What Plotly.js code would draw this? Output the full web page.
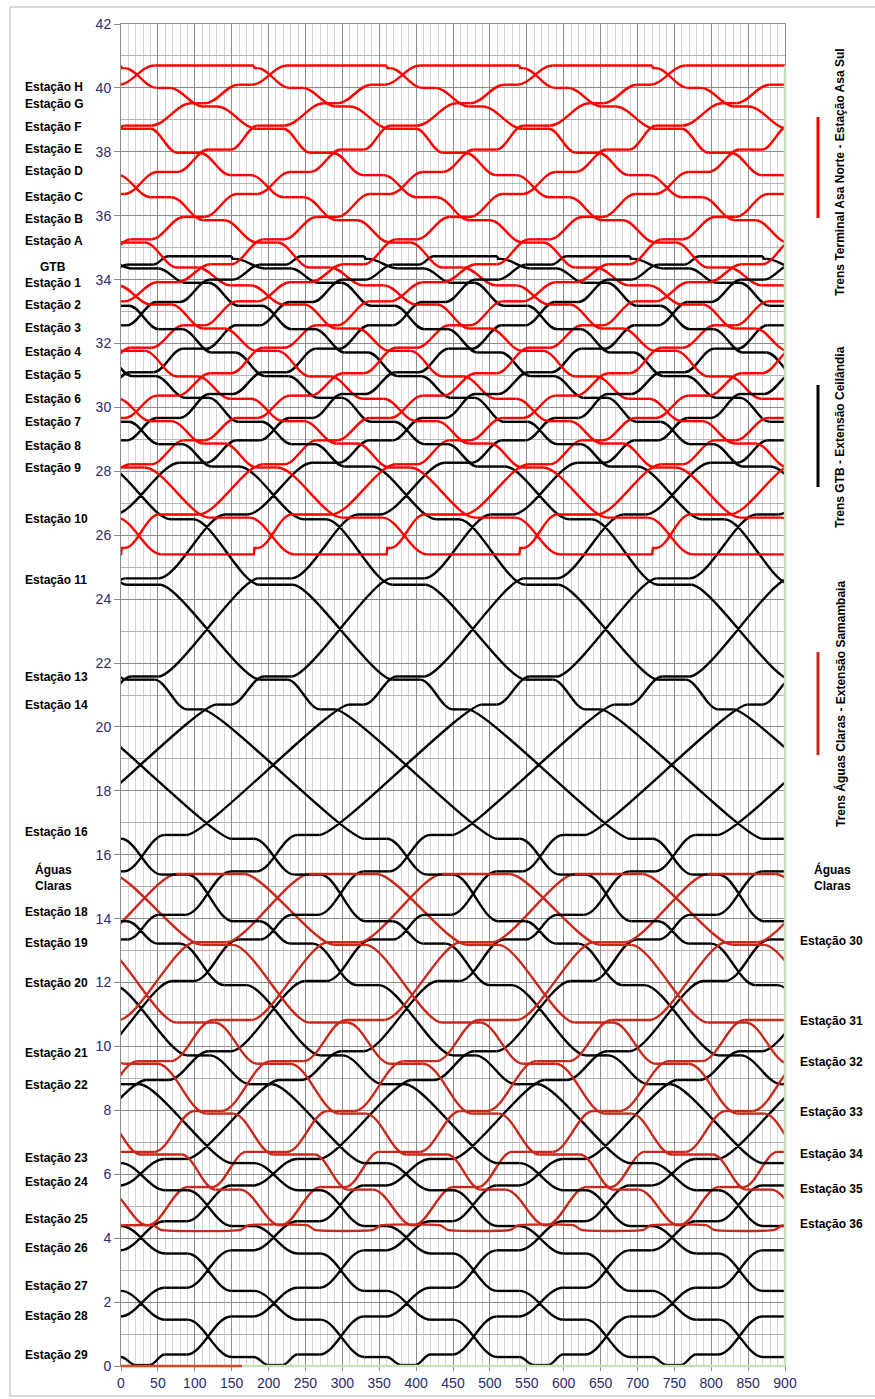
<!DOCTYPE html>
<html>
<head>
<meta charset="utf-8">
<script src="https://cdn.plot.ly/plotly-3.0.1.min.js"></script>
<style>
html,body{margin:0;padding:0;background:#ffffff;}
#chart{width:875px;height:1399px;}
</style>
</head>
<body>
<div id="chart"></div>
<script>
// ===================== DATA =====================
const HEADWAY = 180;   // time between consecutive trains (repeat of the pattern)

// ---- Trens Terminal Asa Norte - Estação Asa Sul (red) ----
const redStations   = ['H','G','F','E','D','C','B','A','GTB','1','2','3','4','5','6','7','8','9','10'];
const redDownY      = [40.0,39.42,38.72,37.97,37.27,36.58,35.86,35.16,34.38,33.82,33.22,32.47,31.77,30.97,30.27,29.57,28.87,28.12,26.55];
const redUpY        = [40.1,39.52,38.82,38.07,37.37,36.68,35.96,35.26,34.48,33.92,33.32,32.57,31.87,31.07,30.37,29.67,28.97,28.22,26.65];
const redDownArr    = [48,111,184,256,328,400,472,544,616,688,760,832,904,976,1048,1120,1192,1264,1380];
const redDownDep    = [66,130,220,287,356,428,500,572,644,716,788,860,932,1004,1076,1148,1220,1292,1434];
const redUpArr      = [3039,2975,2885,2818,2749,2677,2605,2533,2461,2389,2317,2245,2173,2101,2029,1957,1885,1813,1671];
const redUpDep      = [3057,2994,2921,2849,2777,2705,2633,2561,2489,2417,2345,2273,2201,2129,2057,1985,1913,1841,1725];
const redTopY       = [40.7, 40.62];          // terminal level, departure level
const redTopTimes   = [0, 3105, 3240];        // departure, arrival back, next departure
const redBottomY    = [25.4, 25.6];
const redBottomTimes= [1495, 1620];

// ---- Trens GTB - Extensão Ceilândia (black) ----
const blackStations = ['GTB','1','2','3','4','5','6','7','8','9','10','11','13','14','16','Águas Claras','18','19','20','21','22','23','24','25','26','27','28','29'];
const blackDownY    = [34.35,33.9,33.18,32.45,31.72,30.98,30.3,29.55,28.85,28.15,26.5,24.45,21.48,20.55,16.5,15.38,13.92,13.22,11.92,9.72,8.82,6.35,5.5,4.38,3.52,2.35,1.45,0.28];
const blackUpY      = [34.47,34.0,33.3,32.57,31.84,31.1,30.42,29.67,28.97,28.27,26.65,24.65,21.58,20.7,16.62,15.48,14.12,13.35,12.05,9.85,8.95,6.48,5.65,4.53,3.62,2.45,1.55,0.36];
const blackDownArr  = [-705,-633,-561,-489,-417,-345,-273,-201,-129,-57,68,188,368,450,690,775,872,950,1040,1170,1255,1410,1500,1590,1680,1770,1860,1950];
const blackDownDep  = [-669,-601,-529,-457,-385,-313,-241,-169,-97,-20,98,233,405,470,720,810,908,980,1070,1200,1285,1440,1530,1620,1710,1800,1890,1980];
const blackUpArr    = [4688,4620,4548,4476,4404,4332,4260,4188,4116,4039,3921,3786,3614,3549,3299,3209,3111,3039,2949,2819,2734,2579,2489,2399,2309,2219,2129,2039];
const blackUpDep    = [4724,4652,4580,4508,4436,4364,4292,4220,4148,4076,3951,3831,3651,3569,3329,3244,3147,3069,2979,2849,2764,2609,2519,2429,2339,2249,2159,2069];
const blackTopY     = [34.73, 34.65];
const blackTopTimes = [-750, 4744, 4830];
const blackBottomY  = [0.03, 0.03];
const blackBottomTimes = [2000, 2019];

// ---- Trens Águas Claras - Extensão Samambaia (dark red) ----
const samStations   = ['30','31','32','33','34','35'];
const samDownY      = [13.18,10.75,9.46,7.9,6.62,5.52];
const samUpY        = [13.26,10.83,9.54,7.98,6.7,5.6];
const samDownArr    = [109,255,365,476,567,668];
const samDownDep    = [152,307,409,512,622,701];
const samUpArr      = [1360,1205,1103,1000,890,811];
const samUpDep      = [1403,1257,1147,1036,945,844];
const samTopY       = [15.4, 15.4];
const samTopTimes   = [-13, 1515, 1607];
const samBottomY    = [4.4, 4.4];
const samBottomTimes= [756, 756];
// train standing at Estação 36 (moves between two tracks)
const samParkX = [0,44,54,162,172,253,263,342,352,433,443,528,538,614,624,708,718,794,804,886,896,900];
const samParkY = [4.4,4.4,4.26,4.26,4.4,4.4,4.26,4.26,4.4,4.4,4.26,4.26,4.4,4.4,4.26,4.26,4.4,4.4,4.26,4.26,4.4,4.4];

// ---- Axis / labels ----
const xTicks = [0,50,100,150,200,250,300,350,400,450,500,550,600,650,700,750,800,850,900];
const leftLabels = ['Estação H','Estação G','Estação F','Estação E','Estação D','Estação C','Estação B','Estação A','GTB','Estação 1','Estação 2','Estação 3','Estação 4','Estação 5','Estação 6','Estação 7','Estação 8','Estação 9','Estação 10','Estação 11','Estação 13','Estação 14','Estação 16','Águas<br>Claras','Estação 18','Estação 19','Estação 20','Estação 21','Estação 22','Estação 23','Estação 24','Estação 25','Estação 26','Estação 27','Estação 28','Estação 29'];
const leftLabelY = [40.03,39.5,38.78,38.1,37.4,36.6,35.9,35.2,34.4,33.9,33.2,32.5,31.75,31.0,30.25,29.55,28.8,28.1,26.5,24.6,21.55,20.7,16.7,15.3,14.2,13.25,12.0,9.8,8.8,6.5,5.75,4.6,3.7,2.5,1.55,0.35];
const rightLabels = ['Águas<br>Claras','Estação 30','Estação 31','Estação 32','Estação 33','Estação 34','Estação 35','Estação 36'];
const rightLabelY = [15.3,13.3,10.8,9.5,7.95,6.65,5.55,4.45];
const lineNames = ['Trens Terminal Asa Norte - Estação Asa Sul','Trens GTB - Extensão Ceilândia','Trens Águas Claras - Extensão Samambaia'];

// ===================== BUILD =====================
const COL_RED = '#FF0000', COL_BLACK = '#000000', COL_SAM = '#C8291C';
const LW = 2.4;

// one cycle of a train as a list of stops (each stop: points where the train stands)
function cycleStops(s){
  const stops = [];
  const tDep = s.topTimes[0], tArr = s.topTimes[1], tDepNext = s.topTimes[2];
  if (s.topY[1] !== s.topY[0]) stops.push([[tDep, s.topY[0]], [tDep + 1, s.topY[1]], [tDep + 5, s.topY[1]]]);
  else stops.push([[tDep, s.topY[0]]]);
  for (let i = 0; i < s.downY.length; i++) stops.push([[s.downArr[i], s.downY[i]], [s.downDep[i], s.downY[i]]]);
  const bArr = s.bottomTimes[0], bDep = s.bottomTimes[1];
  const b = [[bArr, s.bottomY[0]]];
  if (bDep > bArr) b.push([bDep, s.bottomY[0]]);
  if (s.bottomY[1] !== s.bottomY[0]) { b.push([bDep + 1, s.bottomY[1]]); b.push([bDep + 5, s.bottomY[1]]); }
  stops.push(b);
  for (let i = s.upY.length - 1; i >= 0; i--) stops.push([[s.upArr[i], s.upY[i]], [s.upDep[i], s.upY[i]]]);
  stops.push([[tArr, s.topY[0]], [tDepNext, s.topY[0]]]);
  return stops;
}

function buildSystem(s){
  const stops = cycleStops(s);
  const t0 = stops[0][0][0];
  const last = stops[stops.length - 1];
  const t1 = last[last.length - 1][0];
  const fx = [], fy = [];   // standing (flat) parts -> scatter trace
  let path = '';            // running parts -> cubic curves in data coordinates
  const kMin = Math.floor((-80 - t1) / HEADWAY), kMax = Math.ceil((980 - t0) / HEADWAY);
  for (let k = kMin; k <= kMax; k++) {
    const off = k * HEADWAY;
    if (t1 + off < -80 || t0 + off > 980) continue;
    for (let j = 0; j < stops.length; j++) {
      const st = stops[j];
      if (st.length > 1) {
        const a = st[0][0] + off, e = st[st.length - 1][0] + off;
        if (e >= -40 && a <= 940) {
          for (const p of st) { fx.push(p[0] + off); fy.push(p[1]); }
          fx.push(null); fy.push(null);
        }
      }
      if (j < stops.length - 1) {
        const p0 = st[st.length - 1], p1 = stops[j + 1][0];
        const xa = p0[0] + off, xb = p1[0] + off;
        if (xb < -40 || xa > 940) continue;
        const c = Math.min(0.36 * (xb - xa), 26);
        path += 'M' + xa + ',' + p0[1] + 'C' + (xa + c) + ',' + p0[1] + ' ' + (xb - c) + ',' + p1[1] + ' ' + xb + ',' + p1[1];
      }
    }
  }
  return {x: fx, y: fy, path: path};
}

const red = buildSystem({downY:redDownY, upY:redUpY, downArr:redDownArr, downDep:redDownDep, upArr:redUpArr, upDep:redUpDep, topY:redTopY, topTimes:redTopTimes, bottomY:redBottomY, bottomTimes:redBottomTimes});
const black = buildSystem({downY:blackDownY, upY:blackUpY, downArr:blackDownArr, downDep:blackDownDep, upArr:blackUpArr, upDep:blackUpDep, topY:blackTopY, topTimes:blackTopTimes, bottomY:blackBottomY, bottomTimes:blackBottomTimes});
const sam = buildSystem({downY:samDownY, upY:samUpY, downArr:samDownArr, downDep:samDownDep, upArr:samUpArr, upDep:samUpDep, topY:samTopY, topTimes:samTopTimes, bottomY:samBottomY, bottomTimes:samBottomTimes});

function flatTrace(d, color, name){
  return {type:'scatter', mode:'lines', x:d.x, y:d.y, name:name, connectgaps:false,
          line:{color:color, width:LW, simplify:false}, hoverinfo:'skip', showlegend:false};
}

const traces = [
  flatTrace(black, COL_BLACK, lineNames[1]),
  flatTrace(red, COL_RED, lineNames[0]),
  flatTrace(sam, COL_SAM, lineNames[2]),
  {type:'scatter', mode:'lines', x:samParkX, y:samParkY, line:{color:COL_SAM, width:LW, shape:'spline', smoothing:0.5, simplify:false}, hoverinfo:'skip', showlegend:false}
];

// ===================== LAYOUT =====================
const W = 875, H = 1399, ML = 121, MR = 90, MT = 24, MB = 33;
const PW = W - ML - MR, PH = H - MT - MB;
const px = v => (v - ML) / PW;            // page x -> paper
const py = v => (H - MB - v) / PH;        // page y -> paper

const labelFont = {family:'Liberation Sans, Arial, sans-serif', size:12, color:'#000000'};
const annotations = [];
leftLabels.forEach((t, i) => {
  const centered = (t === 'GTB' || t.indexOf('Águas') === 0);
  annotations.push({xref:'paper', yref:'y', x: centered ? px(53) : px(23), xanchor: centered ? 'center' : 'left',
    y: leftLabelY[i], yanchor:'middle', text:'<b>' + t + '</b>', showarrow:false, font:labelFont, align:'center'});
});
rightLabels.forEach((t, i) => {
  const centered = t.indexOf('Águas') === 0;
  annotations.push({xref:'paper', yref:'y', x: centered ? px(832) : px(798), xanchor: centered ? 'center' : 'left',
    y: rightLabelY[i], yanchor:'middle', text:'<b>' + t + '</b>', showarrow:false, font:labelFont, align:'center'});
});
const titleCenters = [172, 437, 704];
lineNames.forEach((t, i) => {
  annotations.push({xref:'paper', yref:'paper', x:px(840), y:py(titleCenters[i]), xanchor:'center', yanchor:'middle',
    text:'<b>' + t + '</b>', textangle:-90, showarrow:false, font:labelFont});
});

const shapes = [
  {type:'rect', xref:'paper', yref:'paper', x0:px(10), x1:px(884), y0:py(1396), y1:py(7), line:{color:'#b4b4b4', width:1}, fillcolor:'rgba(0,0,0,0)', layer:'below'},
  // train runs between stations (cubic curves, data coordinates)
  {type:'path', xref:'x', yref:'y', path:black.path, line:{color:COL_BLACK, width:LW}, layer:'between'},
  {type:'path', xref:'x', yref:'y', path:red.path, line:{color:COL_RED, width:LW}, layer:'between'},
  {type:'path', xref:'x', yref:'y', path:sam.path, line:{color:COL_SAM, width:LW}, layer:'between'},
  // bottom axis line segments and right border
  {type:'line', xref:'paper', yref:'paper', x0:0, x1:164/900, y0:0, y1:0, line:{color:'#E2461F', width:2.5}},
  {type:'line', xref:'paper', yref:'paper', x0:164/900, x1:1, y0:0, y1:0, line:{color:'#C6E2B6', width:2.5}},
  {type:'line', xref:'paper', yref:'paper', x0:1, x1:1, y0:0, y1:40.7/42, line:{color:'#C6E2B6', width:2.5}},
  // legend bars
  {type:'line', xref:'paper', yref:'paper', x0:px(818), x1:px(818), y0:py(218), y1:py(117), line:{color:COL_RED, width:3}},
  {type:'line', xref:'paper', yref:'paper', x0:px(818), x1:px(818), y0:py(487), y1:py(385), line:{color:COL_BLACK, width:3}},
  {type:'line', xref:'paper', yref:'paper', x0:px(818), x1:px(818), y0:py(755), y1:py(652), line:{color:COL_SAM, width:3}}
];

const tickFont = {family:'Liberation Sans, Arial, sans-serif', size:14, color:'#2B2B6B'};
const layout = {
  width:W, height:H,
  margin:{l:ML, r:MR, t:MT, b:MB, pad:0},
  paper_bgcolor:'#ffffff', plot_bgcolor:'#ffffff',
  showlegend:false,
  xaxis:{range:[0,900], tickmode:'array', tickvals:xTicks, ticktext:xTicks.map(String),
    showgrid:true, gridcolor:'#8c8c8c', gridwidth:1,
    minor:{dtick:10, tick0:0, showgrid:true, gridcolor:'#d4d4d4', gridwidth:1},
    zeroline:false, showline:true, mirror:true, linecolor:'#8c8c8c', linewidth:1,
    ticks:'outside', ticklen:4, tickcolor:'#8c8c8c', tickfont:tickFont, fixedrange:true},
  yaxis:{range:[0,42], tick0:0, dtick:2,
    showgrid:true, gridcolor:'#8c8c8c', gridwidth:1,
    minor:{dtick:1, tick0:0, showgrid:true, gridcolor:'#b4b4b4', gridwidth:1},
    zeroline:false, showline:true, mirror:true, linecolor:'#8c8c8c', linewidth:1,
    ticks:'outside', ticklen:6, tickcolor:'#8c8c8c', tickfont:tickFont, fixedrange:true},
  annotations:annotations,
  shapes:shapes,
  font:{family:'Liberation Sans, Arial, sans-serif'}
};

Plotly.newPlot('chart', traces, layout, {staticPlot:true, displayModeBar:false});
</script>
</body>
</html>
